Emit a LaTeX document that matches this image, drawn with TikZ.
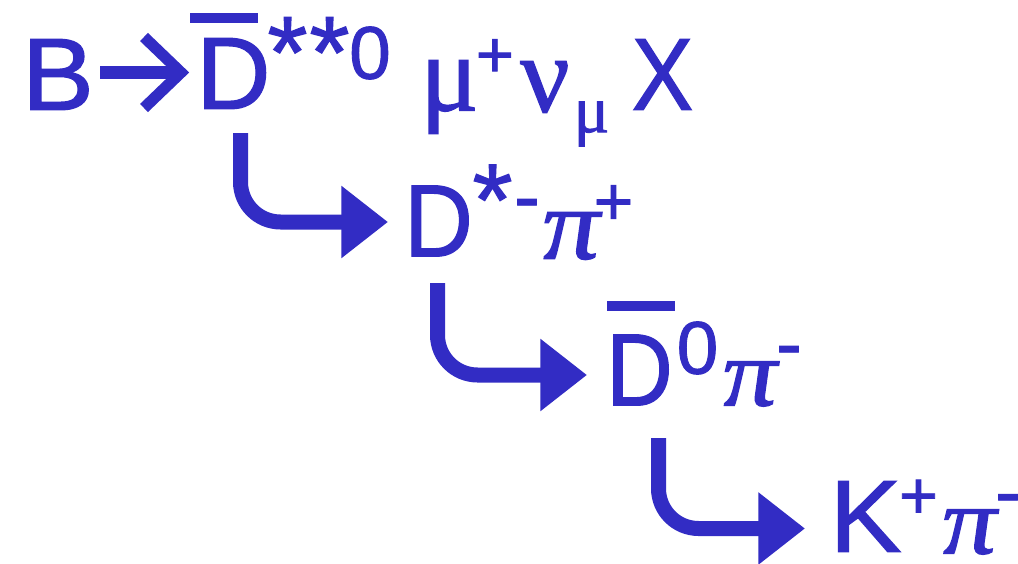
\documentclass[tikz,border=0pt]{standalone}
\usepackage{fontspec}
\usepackage{graphicx}
\setmainfont{Liberation Sans}[FakeBold=1.2]
\newfontfamily\grk{Liberation Serif}[FakeBold=1.2]
\newfontfamily\grks{Liberation Serif}[FakeBold=1.2,FakeSlant=0.12]
\usetikzlibrary{arrows.meta}
\definecolor{ink}{RGB}{50,44,196}
\newcommand\glyf[3]{\scalebox{#2}[1]{\fontsize{#1}{#1}\selectfont #3}}
\tikzset{
  gl/.style={inner sep=0pt,outer sep=0pt,text=ink,anchor=center},
  flow/.style={draw=ink,line width=11.25pt,rounded corners=30pt,
    -{Triangle[length=35pt,width=52pt]},fill=none},
  textarrow/.style={draw=ink,line width=9.5pt},
  chev/.style={draw=ink,line width=8.5pt,miter limit=10},
  overbar/.style={draw=ink,line width=7.5pt}
}
\begin{document}
\begin{tikzpicture}[x=0.75pt,y=-0.75pt]
\fill[white] (0,0) rectangle (1018,564);
\useasboundingbox (0,0) rectangle (1018,564);
% line 1
\node[gl] (b1) at (58,74.5) {\glyf{77}{1.05}{B}};
\coordinate (ta1) at (100,72.5);
\coordinate (ta2) at (178,72.5);
\coordinate (ch1) at (144,37);
\coordinate (ch2) at (181,72.5);
\coordinate (ch3) at (144,108);
\draw[textarrow] (ta1) -- (ta2);
\draw[chev] (ch1) -- (ch2) -- (ch3);
\node[gl] (d1) at (233.5,73.5) {\glyf{77}{1.0}{D}};
\coordinate (bar1a) at (190,18);
\coordinate (bar1b) at (258,18);
\draw[overbar] (bar1a) -- (bar1b);
\node[gl] (st1) at (287.5,52.5) {\glyf{77}{1.0}{*}};
\node[gl] (st2) at (329.5,52.5) {\glyf{77}{1.0}{*}};
\node[gl] (z1) at (370,53) {\glyf{56}{1.0}{0}};
\node[gl] (mu1) at (449.5,97) {\glyf{82}{1.0}{\grk μ}};
\node[gl] (pl1) at (495,58) {\glyf{49}{1.0}{+}};
\node[gl] (nu1) at (545,87) {\glyf{82}{1.0}{\grk ν}};
\node[gl] (mus) at (591.5,124) {\glyf{50}{1.0}{\grk μ}};
\node[gl] (x1) at (662.5,74.5) {\glyf{77}{0.9}{X}};
% line 2
\node[gl] (d2) at (438.5,221) {\glyf{77}{0.93}{D}};
\node[gl] (st3) at (492.5,200) {\glyf{77}{1.0}{*}};
\node[gl] (mi2) at (527,211) {\glyf{58}{1.0}{-}};
\node[gl] (pi2) at (568,236) {\glyf{76}{1.15}{\grks π}};
\node[gl] (pl2) at (613.5,205) {\glyf{51}{1.0}{+}};
% line 3
\coordinate (bar3a) at (607,306);
\coordinate (bar3b) at (675,306);
\draw[overbar] (bar3a) -- (bar3b);
\node[gl] (d3) at (639.5,370) {\glyf{77}{0.9}{D}};
\node[gl] (z3) at (697.5,348) {\glyf{56}{1.0}{0}};
\node[gl] (pi3) at (747,384) {\glyf{72}{1.15}{\grks π}};
\node[gl] (mi3) at (789,358) {\glyf{58}{1.0}{-}};
% line 4
\node[gl] (k4) at (865.5,516.5) {\glyf{77}{1.05}{K}};
\node[gl] (pl4) at (918.5,499) {\glyf{50}{1.0}{+}};
\node[gl] (pi4) at (966.5,532) {\glyf{72}{1.15}{\grks π}};
\node[gl] (mi4) at (1008,506) {\glyf{58}{1.0}{-}};
% connectors
\coordinate (a1s) at (240.5,133);
\coordinate (a1e) at (388,222);
\coordinate (a2s) at (437.5,283);
\coordinate (a2e) at (587,375);
\coordinate (a3s) at (658.5,438);
\coordinate (a3e) at (805,528.5);
\draw[flow] (a1s) |- (a1e);
\draw[flow] (a2s) |- (a2e);
\draw[flow] (a3s) |- (a3e);
\end{tikzpicture}
\end{document}
